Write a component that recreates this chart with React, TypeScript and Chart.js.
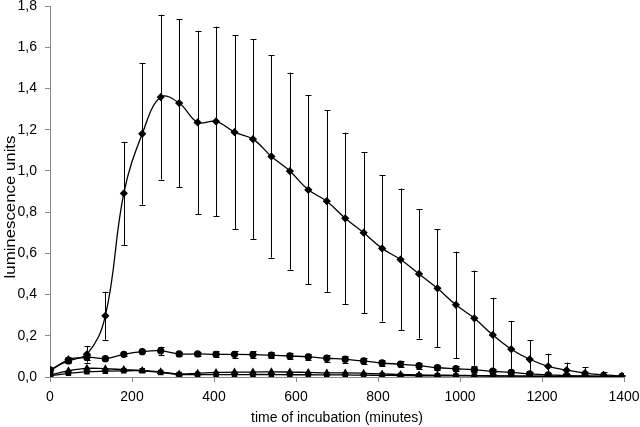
import React, { useEffect, useRef } from "react";
import { Chart, registerables } from "chart.js";

Chart.register(...registerables);

const times = [0, 45, 90, 135, 180, 225, 270, 315, 360, 405, 450, 495, 540, 585, 630, 675, 720, 765, 810, 855, 900, 945, 990, 1035, 1080, 1125, 1170, 1215, 1260, 1305, 1350, 1395];

const diamondValues = [0.03, 0.085, 0.11, 0.297, 0.891, 1.18, 1.358, 1.329, 1.235, 1.24, 1.188, 1.154, 1.07, 0.999, 0.908, 0.853, 0.77, 0.70, 0.624, 0.570, 0.50, 0.43, 0.35, 0.285, 0.204, 0.135, 0.086, 0.052, 0.033, 0.019, 0.01, 0.005];
const diamondErrors = [0.01, 0.012, 0.04, 0.116, 0.25, 0.344, 0.40, 0.407, 0.445, 0.46, 0.471, 0.484, 0.491, 0.478, 0.459, 0.44, 0.415, 0.39, 0.355, 0.344, 0.314, 0.286, 0.258, 0.231, 0.18, 0.137, 0.092, 0.061, 0.037, 0.028, 0.013, 0.004];

const circleValues = [0.034, 0.078, 0.096, 0.089, 0.11, 0.123, 0.127, 0.112, 0.112, 0.11, 0.11, 0.109, 0.106, 0.102, 0.098, 0.091, 0.086, 0.078, 0.068, 0.062, 0.055, 0.045, 0.04, 0.035, 0.028, 0.022, 0.015, 0.01, 0.007, 0.005, 0.003, 0.002];
const circleErrors = [0.008, 0.01, 0.012, 0.008, 0.008, 0.008, 0.02, 0.01, 0.01, 0.015, 0.016, 0.015, 0.016, 0.016, 0.016, 0.016, 0.016, 0.015, 0.015, 0.014, 0.014, 0.013, 0.013, 0.012, 0.012, 0.011, 0.01, 0.008, 0.007, 0.006, 0.005, 0.004];

const triangleValues = [0.01, 0.03, 0.042, 0.04, 0.036, 0.032, 0.025, 0.015, 0.018, 0.022, 0.024, 0.024, 0.025, 0.024, 0.022, 0.02, 0.02, 0.018, 0.015, 0.012, 0.01, 0.009, 0.008, 0.007, 0.006, 0.005, 0.004, 0.004, 0.003, 0.003, 0.002, 0.002];
const squareValues = [0.005, 0.018, 0.025, 0.028, 0.03, 0.03, 0.022, 0.012, 0.012, 0.012, 0.012, 0.012, 0.012, 0.011, 0.011, 0.01, 0.01, 0.009, 0.008, 0.007, 0.006, 0.006, 0.005, 0.005, 0.004, 0.004, 0.004, 0.003, 0.003, 0.003, 0.003, 0.003];

const yTickLabels = ["0,0", "0,2", "0,4", "0,6", "0,8", "1,0", "1,2", "1,4", "1,6", "1,8"];
const xTickLabels = ["0", "200", "400", "600", "800", "1000", "1200", "1400"];
const yTitle = "luminescence units";
const xTitle = "time of incubation (minutes)";

const FONT_FAMILY = "'Liberation Sans', Arial, sans-serif";

const toPoints = (vals: number[]) => vals.map((v, i) => ({ x: times[i], y: v }));

const errorBarPlugin = {
  id: "errorBars",
  afterDatasetsDraw(chart: any) {
    const ctx = chart.ctx;
    const xs = chart.scales.x;
    const ys = chart.scales.y;
    const area = chart.chartArea;
    ctx.save();
    ctx.beginPath();
    ctx.rect(area.left, area.top - 2, area.right - area.left + 10, area.bottom - area.top + 2);
    ctx.clip();
    ctx.strokeStyle = "#000";
    ctx.lineWidth = 1;
    chart.data.datasets.forEach((ds: any) => {
      if (!ds.errors) return;
      ds.data.forEach((p: any, i: number) => {
        const e = ds.errors[i];
        const px = Math.round(xs.getPixelForValue(p.x)) + 0.5;
        const top = ys.getPixelForValue(p.y + e);
        const bot = ys.getPixelForValue(p.y - e);
        ctx.beginPath();
        ctx.moveTo(px, top);
        ctx.lineTo(px, bot);
        ctx.moveTo(px - 3, Math.round(top) + 0.5);
        ctx.lineTo(px + 3, Math.round(top) + 0.5);
        ctx.moveTo(px - 3, Math.round(bot) + 0.5);
        ctx.lineTo(px + 3, Math.round(bot) + 0.5);
        ctx.stroke();
      });
    });
    ctx.restore();
  },
};

// y-axis title drawn with a horizontal stretch, as in the reference
const yTitlePlugin = {
  id: "yTitle",
  afterDraw(chart: any) {
    const ctx = chart.ctx;
    ctx.save();
    ctx.translate(11, 207);
    ctx.rotate(-Math.PI / 2);
    ctx.scale(1.2, 1);
    ctx.font = `14px ${FONT_FAMILY}`;
    ctx.fillStyle = "#000";
    ctx.textAlign = "center";
    ctx.textBaseline = "middle";
    ctx.fillText(yTitle, 0, 0);
    ctx.restore();
  },
};

export default function App() {
  const ref = useRef<HTMLCanvasElement>(null);
  useEffect(() => {
    if (!ref.current) return;
    const font = { family: FONT_FAMILY, size: 14 };
    const common = {
      borderColor: "#000",
      backgroundColor: "#000",
      pointBorderColor: "#000",
      pointBackgroundColor: "#000",
      borderWidth: 1.3,
      tension: 0.4,
      fill: false,
    };
    const chart = new Chart(ref.current, {
      type: "line",
      data: {
        datasets: [
          { ...common, label: "squares", data: toPoints(squareValues), pointStyle: "rect", pointRadius: 3 },
          { ...common, label: "triangles", data: toPoints(triangleValues), pointStyle: "triangle", pointRadius: 3.2 },
          { ...common, label: "circles", data: toPoints(circleValues), pointStyle: "circle", pointRadius: 3, errors: circleErrors } as any,
          { ...common, label: "diamonds", data: toPoints(diamondValues), pointStyle: "rectRot", pointRadius: 3.2, errors: diamondErrors } as any,
        ],
      },
      options: {
        responsive: false,
        animation: false,
        layout: { padding: { top: 6, right: 0, left: 0, bottom: 0 } },
        plugins: { legend: { display: false }, tooltip: { enabled: false } },
        scales: {
          x: {
            type: "linear",
            min: 0,
            max: 1400,
            border: { color: "#8a8a8a", width: 1 },
            grid: { display: true, drawOnChartArea: false, drawTicks: true, tickLength: 5, color: "#8a8a8a" },
            ticks: { stepSize: 200, color: "#000", font, padding: 7, maxRotation: 0, callback: (_v: any, i: number) => xTickLabels[i] },
            title: { display: true, text: xTitle, color: "#000", font, padding: { top: 6, bottom: 0 } },
            afterFit: (s: any) => { s.height = 50; s.paddingRight = 16; s.paddingLeft = 0; },
          },
          y: {
            min: 0,
            max: 1.8,
            border: { color: "#8a8a8a", width: 1 },
            grid: { display: true, drawOnChartArea: false, drawTicks: true, tickLength: 5, color: "#8a8a8a" },
            ticks: {
              stepSize: 0.2,
              color: "#000",
              font,
              padding: 8,
              callback: (_v: any, i: number) => yTickLabels[i],
            },
            afterFit: (s: any) => { s.width = 50; s.paddingTop = 6; s.paddingBottom = 0; },
          },
        },
      },
      plugins: [errorBarPlugin, yTitlePlugin],
    } as any);
    return () => chart.destroy();
  }, []);
  return (
    <div style={{ position: "absolute", left: 0, top: 0, width: 640, height: 427, background: "#fff" }}>
      <canvas ref={ref} width={640} height={427} />
    </div>
  );
}
